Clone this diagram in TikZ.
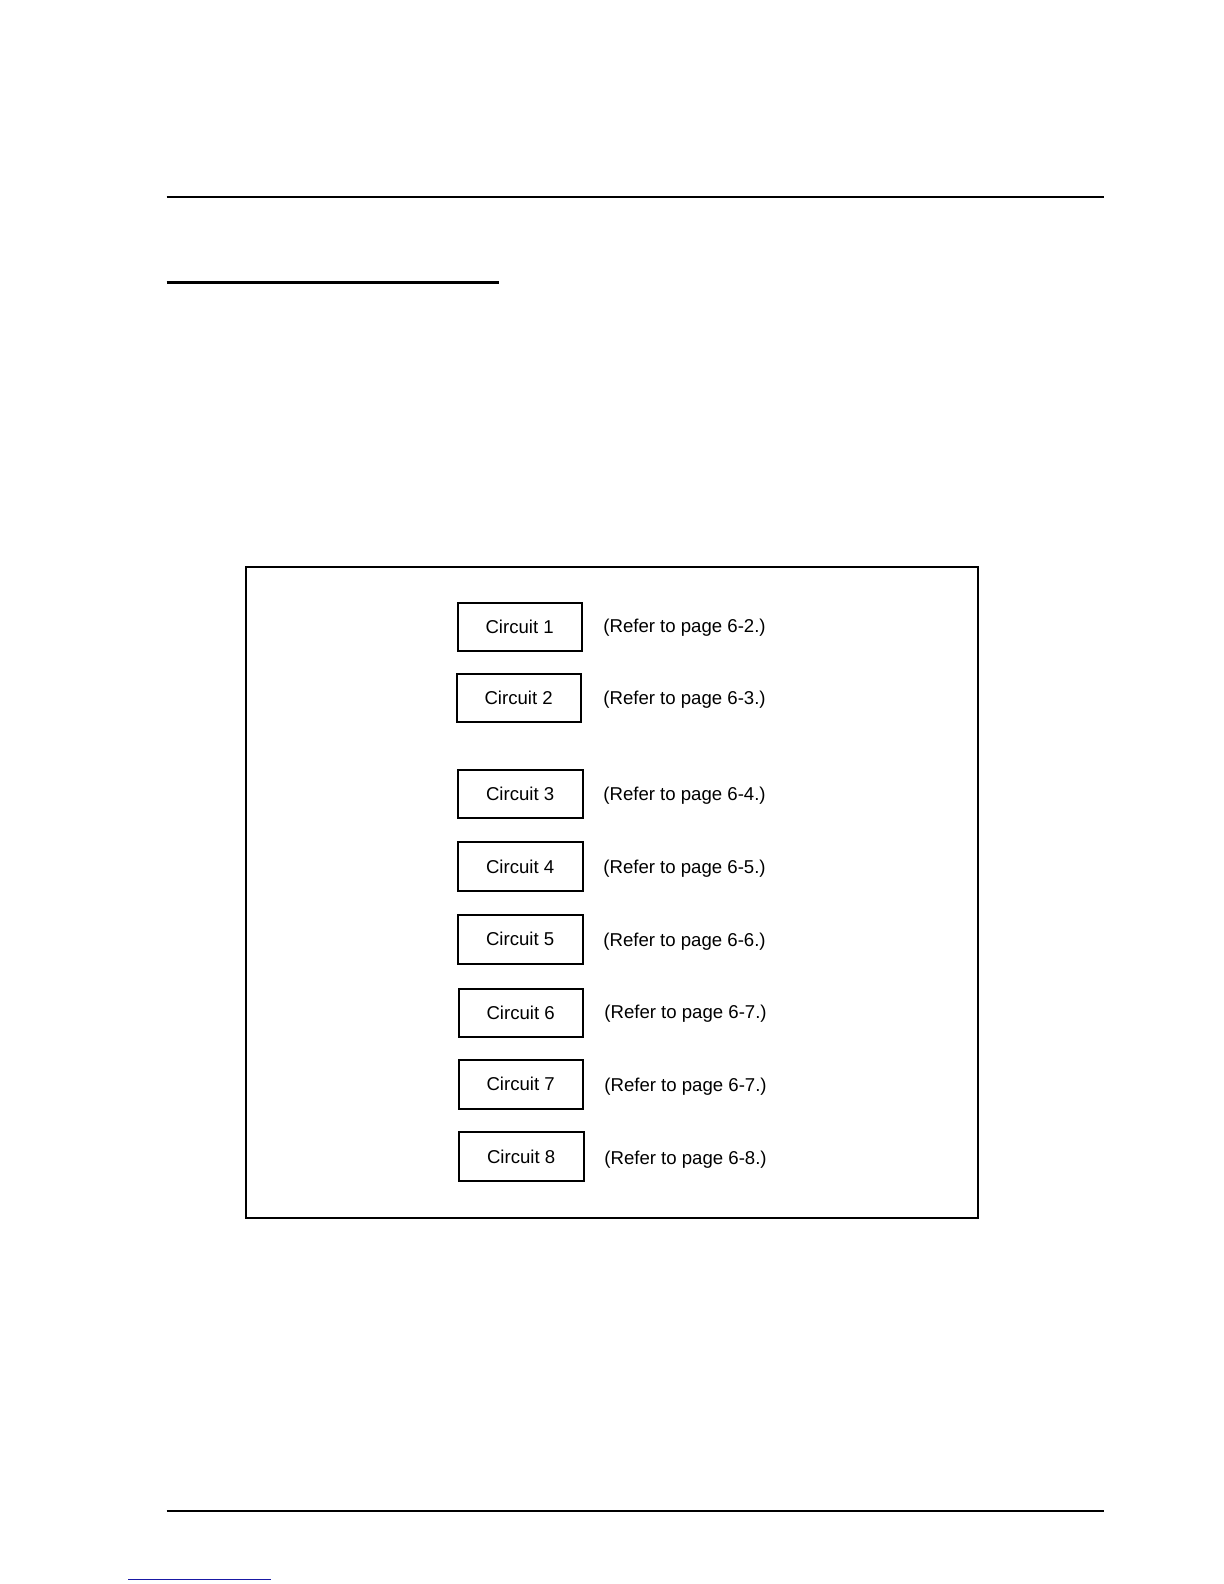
\documentclass[tikz,border=0pt]{standalone}
\usepackage{fontspec}
\setmainfont{Liberation Sans}
\definecolor{linkblue}{RGB}{25,25,165}
\begin{document}
\begin{tikzpicture}[x=0.505pt,y=-0.505pt,
  cbox/.style={draw=black,line width=1pt,inner sep=0pt,font=\fontsize{9.3}{11}\selectfont},
  ref/.style={anchor=west,inner sep=0pt,font=\fontsize{9.3}{11}\selectfont}]
\useasboundingbox (0pt,0pt) rectangle (612pt,-792pt);
\fill[white] (0pt,0pt) rectangle (612pt,-792pt);
% page rules
\draw[line width=0.65pt] (165,195) -- (1093,195);
\draw[line width=1.5pt] (165,280) -- (494,280);
\draw[line width=0.65pt] (165,1496) -- (1093,1496);
\draw[line width=0.6pt,draw=linkblue] (127,1564) -- (268,1564);
% outer frame
\node[draw=black,line width=1pt,minimum width=365.6pt,minimum height=325.7pt,inner sep=0pt] (frame) at (606,883.5) {};
% circuit boxes
\node[cbox,minimum width=62.1pt,minimum height=24.2pt] (c1) at (514.5,621) {Circuit 1};
\node[cbox,minimum width=62.1pt,minimum height=24.2pt] (c2) at (513.5,691) {Circuit 2};
\node[cbox,minimum width=62.6pt,minimum height=24.2pt] (c3) at (515,786) {Circuit 3};
\node[cbox,minimum width=62.6pt,minimum height=24.2pt] (c4) at (515,858) {Circuit 4};
\node[cbox,minimum width=62.6pt,minimum height=24.2pt] (c5) at (515,930) {Circuit 5};
\node[cbox,minimum width=62.1pt,minimum height=24.2pt] (c6) at (515.5,1003) {Circuit 6};
\node[cbox,minimum width=62.1pt,minimum height=24.7pt] (c7) at (515.5,1073.5) {Circuit 7};
\node[cbox,minimum width=62.6pt,minimum height=24.2pt] (c8) at (516,1145) {Circuit 8};
% references
\node[ref] (r1) at (597,621) {(Refer to page 6-2.)};
\node[ref] (r2) at (597,693) {(Refer to page 6-3.)};
\node[ref] (r3) at (597,788) {(Refer to page 6-4.)};
\node[ref] (r4) at (597,860) {(Refer to page 6-5.)};
\node[ref] (r5) at (597,932) {(Refer to page 6-6.)};
\node[ref] (r6) at (598,1004) {(Refer to page 6-7.)};
\node[ref] (r7) at (598,1076) {(Refer to page 6-7.)};
\node[ref] (r8) at (598,1148) {(Refer to page 6-8.)};
\end{tikzpicture}
\end{document}
